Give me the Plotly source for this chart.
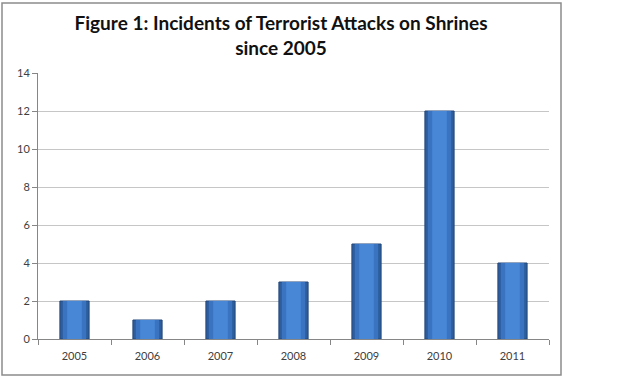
import plotly.graph_objects as go

years = ["2005", "2006", "2007", "2008", "2009", "2010", "2011"]
incidents = [2, 1, 2, 3, 5, 12, 4]
y_ticks = [0, 2, 4, 6, 8, 10, 12, 14]

title_text = "Figure 1: Incidents of Terrorist Attacks on Shrines<br>since 2005"

fig = go.Figure()
# layered bars to imitate the bevelled gradient
fig.add_trace(go.Bar(x=years, y=incidents, width=0.4, marker=dict(color="#2d5d9c", line=dict(color="#24497a", width=1)), hoverinfo="x+y"))
fig.add_trace(go.Bar(x=years, y=incidents, width=0.32, marker=dict(color="#3a74c0", line=dict(width=0)), hoverinfo="skip"))
fig.add_trace(go.Bar(x=years, y=incidents, width=0.2, marker=dict(color="#4787d6", line=dict(width=0)), hoverinfo="skip"))

fig.update_layout(
    width=628, height=377,
    margin=dict(l=38, r=79, t=73, b=38),
    barmode="overlay",
    showlegend=False,
    plot_bgcolor="white", paper_bgcolor="white",
    font=dict(family="Lato, Carlito, sans-serif", size=11, color="#404040"),
    title=dict(text=title_text, x=281/628, xanchor="center", y=1-30/377, yanchor="top",
               font=dict(family="Lato, sans-serif", size=19, color="#111111", weight="bold")),
    xaxis=dict(type="category", tickson="boundaries", ticks="outside", ticklen=5, tickcolor="#868686",
               showline=True, linecolor="#868686", linewidth=1, showgrid=False,
               ticklabelstandoff=7, tickfont=dict(size=11, color="#404040")),
    yaxis=dict(range=[0, 14], tickvals=y_ticks, ticks="outside", ticklen=5, tickcolor="#868686",
               showline=True, linecolor="#868686", linewidth=1,
               showgrid=True, gridcolor="#c6c6c6", gridwidth=1, zeroline=False,
               tickfont=dict(size=11, color="#404040")),
    shapes=[dict(type="rect", xref="paper", yref="paper", layer="below",
                 x0=-36/511, x1=(561-38)/511, y0=-(375-339)/266, y1=(339-3)/266,
                 line=dict(color="#8c8c8c", width=1.5))],
)

fig.write_html("out.html", config={"displayModeBar": False},
               post_script="document.body.style.margin='0px';")
